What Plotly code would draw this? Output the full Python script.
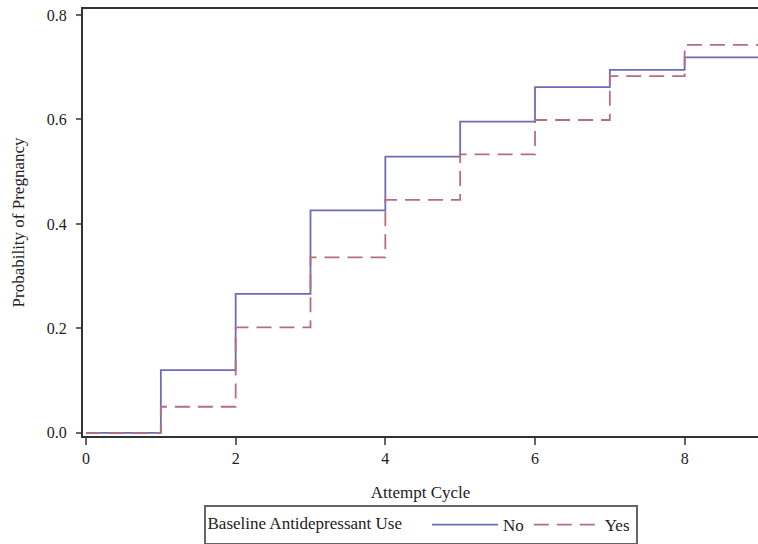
import plotly.graph_objects as go

cycles = [0, 1, 2, 3, 4, 5, 6, 7, 8, 9]
prob_no = [0.0, 0.120, 0.266, 0.426, 0.529, 0.596, 0.662, 0.695, 0.719, 0.719]
prob_yes = [0.0, 0.050, 0.202, 0.336, 0.446, 0.533, 0.599, 0.683, 0.743, 0.743]
x_ticks = [0, 2, 4, 6, 8]
y_ticks = [0.0, 0.2, 0.4, 0.6, 0.8]
y_tick_labels = ["0.0", "0.2", "0.4", "0.6", "0.8"]

FONT = "Liberation Serif, Times New Roman, serif"

fig = go.Figure()
fig.add_trace(go.Scatter(
    x=cycles, y=prob_no, mode="lines", line_shape="hv", name="No",
    line=dict(color="#6c6cb8", width=1.8),
))
fig.add_trace(go.Scatter(
    x=cycles, y=prob_yes, mode="lines", line_shape="hv", name="Yes",
    line=dict(color="#b36f7f", width=1.8, dash="15px,8px"),
))

fig.update_layout(
    width=758, height=544,
    margin=dict(l=83, r=0, t=9, b=108, autoexpand=False),
    paper_bgcolor="white", plot_bgcolor="white",
    font=dict(family=FONT, size=16, color="#222"),
    showlegend=True,
    legend=dict(
        orientation="h", x=0.5, xanchor="center",
        yref="container", y=(544 - 505) / 544, yanchor="top",
        bordercolor="#666", borderwidth=2, bgcolor="white",
        title=dict(text="Baseline Antidepressant Use    ", side="left",
                   font=dict(family=FONT, size=17)),
        font=dict(family=FONT, size=17),
        itemwidth=66, tracegroupgap=0,
    ),
    xaxis=dict(
        range=[-0.04, 8.98], tickvals=x_ticks, showgrid=False, zeroline=False,
        automargin=False,
        showline=True, linecolor="#333", linewidth=2, mirror=True,
        ticks="outside", ticklen=7, tickwidth=2, tickcolor="#666",
        tickfont=dict(family=FONT, size=16),
        title=dict(text="Attempt Cycle", font=dict(family=FONT, size=17), standoff=20),
    ),
    yaxis=dict(
        range=[-0.006, 0.8115], tickvals=y_ticks, ticktext=y_tick_labels,
        showgrid=False, zeroline=False, automargin=False,
        showline=True, linecolor="#333", linewidth=2,
        ticks="outside", ticklen=5, tickwidth=2, tickcolor="#666",
        ticklabelstandoff=6,
        tickfont=dict(family=FONT, size=16),
        title=dict(text="Probability of Pregnancy", font=dict(family=FONT, size=17), standoff=18),
    ),
)

fig.write_html(
    "out.html",
    config={"displayModeBar": False},
    post_script="document.body.style.margin='0';document.body.style.overflow='hidden';",
)
